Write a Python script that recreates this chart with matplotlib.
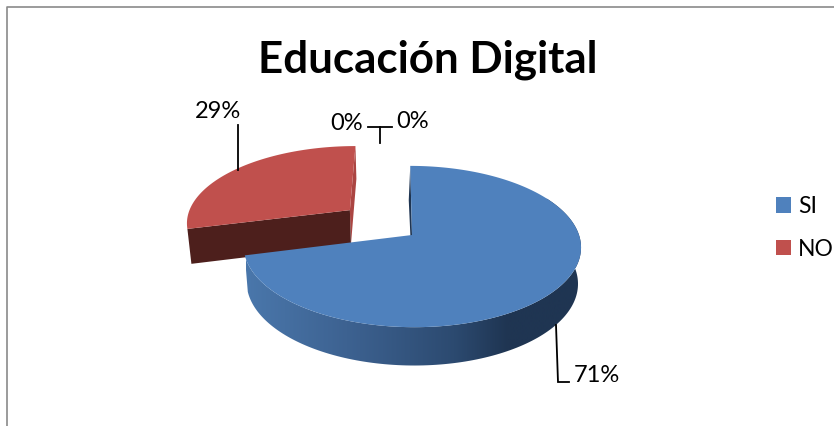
import numpy as np
import matplotlib
matplotlib.use('Agg')
import matplotlib.pyplot as plt
from matplotlib.patches import Polygon, Patch
from matplotlib.colors import LinearSegmentedColormap

# Datos
categorias = ['SI', 'NO', '', '']
valores = [71, 29, 0, 0]
titulo = 'Educación Digital'

plt.rcParams['font.family'] = ['Lato', 'DejaVu Sans']

fig = plt.figure(figsize=(8.34, 4.26), dpi=100)
ax = fig.add_axes([0, 0, 1, 1])

# marco del grafico
ax.plot([7, 7, 834], [426, 7, 7], color='#8a8a8a', lw=1.2)

AZUL, ROJO = '#4f81bd', '#c0504d'
OSCURO_ROJO = '#4d1f1c'


def proy(ang, r=1.0, exp=None, fondo=False):
    # angulo en grados, en sentido horario desde arriba, con perspectiva
    u = r * np.sin(np.radians(ang))
    v = r * np.cos(np.radians(ang))
    dx, dy = 0, 0
    if exp is not None:
        u = u + 0.47 * np.sin(np.radians(exp))
        v = v + 0.47 * np.cos(np.radians(exp))
        dx, dy = -2, -3
    d = 1 + 0.143 * v
    if fondo:
        return 412 + dx + (164 * u - 2 * v) / d, 271 + dy - (1 if exp is not None else 0) - 81 * v / d
    return 412 + dx + (167 * u - 2 * v) / d, 235 + dy - 79 * v / d


total = sum(valores)
fin_azul = 360 * valores[0] / total
medio_rojo = (fin_azul + 360) / 2

# --- porcion roja, separada ---
th = np.linspace(fin_azul, 360, 80)
xt, yt = proy(th, exp=medio_rojo)
xa, ya = proy(0, r=0, exp=medio_rojo)
xb, yb = proy(0, r=0, exp=medio_rojo, fondo=True)
x1, y1 = proy(fin_azul, exp=medio_rojo, fondo=True)
x2, y2 = proy(360, exp=medio_rojo, fondo=True)

ax.add_patch(Polygon([(xt[-1], yt[-1]), (xa, ya), (xb, yb), (x2, y2)],
                     fc='#ab4542', ec='none', zorder=2))
ax.add_patch(Polygon([(xt[0], yt[0]), (xa, ya), (xb, yb), (x1, y1)],
                     fc=OSCURO_ROJO, ec='none', zorder=2))
ax.add_patch(Polygon(np.r_[np.c_[xt, yt], [[xa, ya]]], fc=ROJO, ec='none', zorder=3))

# --- porcion azul ---
th = np.linspace(0, fin_azul, 200)
xt, yt = proy(th)
xf, yf = proy(th, fondo=True)
xa, ya = proy(0, r=0)
xb, yb = proy(0, r=0, fondo=True)

# pared interior (se ve apenas)
ax.add_patch(Polygon([(xt[0], yt[0]), (xa, ya), (xb, yb), (xf[0] - 1.5, yf[0])],
                     fc='#1f3552', ec='none', zorder=4))

# pared exterior con degradado
cmap = LinearSegmentedColormap.from_list(
    'lado', [(0, '#4a77ab'), (0.3, '#3d6291'), (0.62, '#2c4a70'), (0.78, '#1f3552'), (1, '#1f3552')])
frente = th > 60
lado = Polygon(np.r_[np.c_[xt[frente], yt[frente]], np.c_[xf[frente], yf[frente]][::-1]],
               fc='none', ec='none', transform=ax.transData)
ax.add_patch(lado)
grad = ax.imshow(np.linspace(0, 1, 256)[None, :], cmap=cmap, extent=(246, 582, 426, 0),
                 aspect='auto', zorder=5, interpolation='bilinear')
grad.set_clip_path(lado)

ax.add_patch(Polygon(np.r_[np.c_[xt, yt], [[xa, ya]]], fc=AZUL, ec='none', zorder=6))

# lineas guia
guias = [([238, 238], [125, 170]),
         ([556, 558, 569], [325, 382, 382]),
         ([368, 392], [127, 127]),
         ([380, 380], [127, 143])]
for gx, gy in guias:
    ax.plot(gx, gy, color='black', lw=1.3, zorder=7, solid_joinstyle='miter')

# etiquetas
etq = [f'{v}%' for v in valores]
pos = [(597, 376), (218, 112), (347, 123), (413, 121)]
for t, (x, y) in zip(etq, pos):
    ax.text(x, y, t, fontsize=17, ha='center', va='center', color='black', zorder=8)

ax.text(428, 60, titulo, fontsize=31.6, fontweight='bold', ha='center', va='center')

# leyenda
handles = [Patch(fc=AZUL, ec='none'), Patch(fc=ROJO, ec='none')]
ax.legend(handles, categorias[:2], loc='center left', bbox_to_anchor=(767 / 834, 1 - 228 / 426),
          frameon=False, fontsize=16.5, handlelength=0.65, handleheight=0.65,
          handletextpad=0.3, labelspacing=0.95, borderpad=0, borderaxespad=0.4)

ax.set_xlim(0, 834)
ax.set_ylim(426, 0)
ax.axis('off')

fig.savefig('out.png', dpi=100)
